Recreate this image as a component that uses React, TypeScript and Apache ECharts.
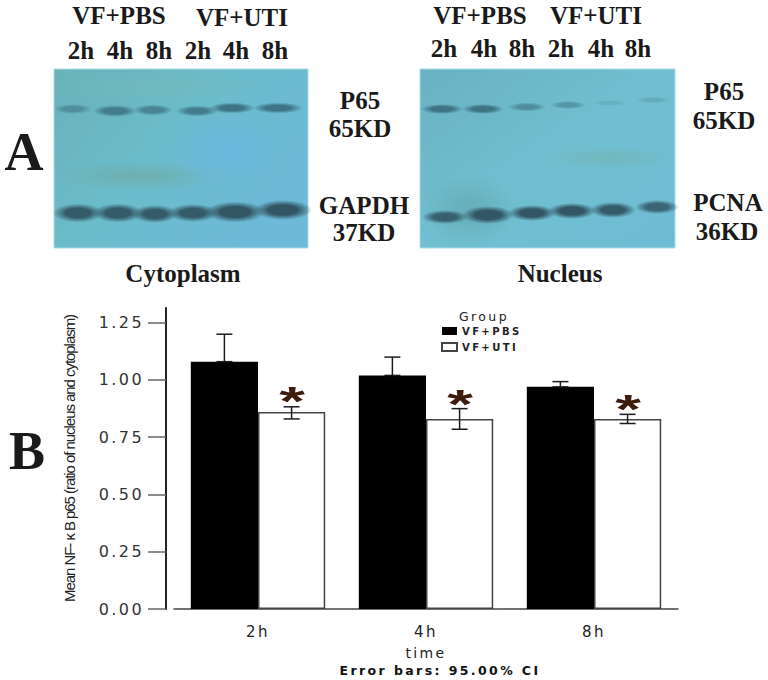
import React, { useEffect, useRef } from "react";
import * as echarts from "echarts";

const categories = ["2h", "4h", "8h"];
const pbsValues = [1.08, 1.02, 0.97];
const utiValues = [0.86, 0.83, 0.83];
const pbsHigh = [1.2, 1.1, 0.993];
const utiHigh = [0.883, 0.875, 0.85];
const utiLow = [0.83, 0.785, 0.81];
const starValues = [0.935, 0.92, 0.9];
const yTicks = [0, 0.25, 0.5, 0.75, 1, 1.25];

const serif = "'Liberation Serif'";
const sans = "'Liberation Sans'";
const wide = "'DejaVu Sans'";

function blob(cx: number, cy: number, rx: number, ry: number, color: string, opacity = 1, hard = 0.5) {
  const colorStops = [
    { offset: 0, color },
    { offset: hard, color },
    { offset: 1, color: color.replace(/[\d.]+\)$/, "0)") },
  ];
  return {
    type: "circle",
    silent: true,
    shape: { cx: 0, cy: 0, r: 10 },
    x: cx,
    y: cy,
    scaleX: rx / 10,
    scaleY: ry / 10,
    style: { opacity, fill: { type: "radial", x: 0.5, y: 0.5, r: 0.5, colorStops } },
  };
}

function serifText(text: string, x: number, y: number, size = 25) {
  return {
    type: "text",
    silent: true,
    x,
    y,
    style: { text, fill: "#1a1a1a", font: `bold ${size}px ${serif}`, align: "center", verticalAlign: "middle" },
  };
}

const dark = "rgba(50,86,100,1)";
const mid = "rgba(54,104,120,1)";

function bands(list: number[][], color: string) {
  return list.map(([x, y, rx, ry, o]) => blob(x, y, rx, ry, color, o));
}

const blotGraphics = [
  {
    type: "rect", silent: true, shape: { x: 54, y: 69, width: 254, height: 179 },
    style: {
      stroke: "#a8dde6", lineWidth: 1,
      fill: { type: "linear", x: 0, y: 0, x2: 1, y2: 0.6, colorStops: [
        { offset: 0, color: "#69b2b8" }, { offset: 0.5, color: "#6bbccb" }, { offset: 1, color: "#6cb9d8" } ] },
    },
  },
  blob(140, 176, 85, 15, "rgba(112,168,160,0.55)", 1, 0.2),
  blob(225, 150, 60, 38, "rgba(108,184,226,0.7)", 1, 0.2),
  blob(160, 86, 100, 15, "rgba(114,186,186,0.6)", 1, 0.2),
  ...bands([[73,109,19,5,0.5],[115,111,22,6,0.75],[153,110,20,5.5,0.65],[197,111,21,5.5,0.75],[232,108,23,5.5,0.85],[278,108,25,5.5,0.85]], mid),
  ...bands([[78,213,25,9.5,0.95],[118,213,25,9.5,0.95],[155,214,23,9,0.95],[193,213,25,9,0.95],[235,212,30,10.5,1],[283,210,29,10,1]], dark),
  {
    type: "rect", silent: true, shape: { x: 420, y: 69, width: 255, height: 179 },
    style: {
      stroke: "#a8dde6", lineWidth: 1,
      fill: { type: "linear", x: 0, y: 0, x2: 1, y2: 1, colorStops: [
        { offset: 0, color: "#68b2c2" }, { offset: 0.5, color: "#70bfd0" }, { offset: 1, color: "#6ebcd4" } ] },
    },
  },
  blob(470, 210, 48, 36, "rgba(96,166,174,0.6)", 1, 0.2),
  blob(608, 158, 64, 11, "rgba(116,180,178,0.6)", 1, 0.2),
  ...bands([[442,109,21,5,0.85],[483,109,21,5,0.85],[527,107,19,4.5,0.55],[568,105,18,4,0.45],[610,103,17,3,0.16],[653,100,17,3.5,0.22]], mid),
  ...bands([[445,217,23,7,0.9],[488,215,26,9,1],[532,213,24,8,1],[572,211,24,8,1],[613,210,23,8,0.95],[657,207,22,7,0.85]], dark),
];

const paperLabels = [
  serifText("VF+PBS", 119, 15), serifText("VF+UTI", 242, 17),
  ...["2h", "4h", "8h", "2h", "4h", "8h"].map((t, i) => serifText(t, [81, 120, 159, 198, 236, 275][i], 50)),
  serifText("P65", 360, 100), serifText("65KD", 360, 128),
  serifText("GAPDH", 364, 205), serifText("37KD", 364, 232),
  serifText("Cytoplasm", 183, 273),
  serifText("VF+PBS", 480, 15), serifText("VF+UTI", 596, 15),
  ...["2h", "4h", "8h", "2h", "4h", "8h"].map((t, i) => serifText(t, [444, 484, 522, 561, 601, 638][i], 48)),
  serifText("P65", 724, 91), serifText("65KD", 724, 120),
  serifText("PCNA", 728, 202), serifText("36KD", 727, 231),
  serifText("Nucleus", 560, 273),
  serifText("A", 24, 152, 54),
  serifText("B", 27, 451, 54),
];

const chartTexts = [
  { type: "text", silent: true, x: 484, y: 316, style: { text: "Group", fill: "#222", font: `12.5px ${wide}`, align: "center", verticalAlign: "middle" } },
  { type: "text", silent: true, x: 440, y: 670, style: { text: "Error bars: 95.00% CI", fill: "#111", font: `bold 12.5px ${wide}`, align: "center", verticalAlign: "middle" } },
];

function errorBar(api: any, x: number, high: number, low: number) {
  const top = api.coord([0, high])[1];
  const bottom = api.coord([0, low])[1];
  const cap = 8;
  const style = { stroke: "#1c1c1c", lineWidth: 1.5 };
  return [
    { type: "line", shape: { x1: x, y1: top, x2: x, y2: bottom }, style },
    { type: "line", shape: { x1: x - cap, y1: top, x2: x + cap, y2: top }, style },
    { type: "line", shape: { x1: x - cap, y1: bottom, x2: x + cap, y2: bottom }, style },
  ];
}

export default function App() {
  const ref = useRef<HTMLDivElement>(null);
  useEffect(() => {
    const chart = echarts.init(ref.current!, undefined, { renderer: "svg" });
    chart.setOption({
      animation: false,
      backgroundColor: "#ffffff",
      textStyle: { fontFamily: wide },
      grid: { left: 174, right: 90, top: 308, bottom: 71, containLabel: false },
      legend: {
        left: 436, top: 321, orient: "vertical", itemWidth: 15, itemHeight: 8, itemGap: 6,
        icon: "rect",
        data: ["VF+PBS", "VF+UTI"],
        textStyle: { fontFamily: wide, fontSize: 10, fontWeight: "bold", color: "#222" },
      },
      xAxis: {
        type: "category",
        data: categories,
        name: "time",
        nameLocation: "middle",
        nameGap: 37,
        nameTextStyle: { fontFamily: wide, fontSize: 14, color: "#222" },
        axisLine: { lineStyle: { color: "#444", width: 1.5 } },
        axisTick: { alignWithLabel: true, length: 10, lineStyle: { color: "#444", width: 1.5 } },
        axisLabel: { fontFamily: wide, fontSize: 15, color: "#222", margin: 15 },
      },
      yAxis: {
        type: "value",
        min: 0,
        max: 1.3144,
        offset: 8,
        name: "Mean NF- κ B p65 (ratio of nucleus and cytoplasm)",
        nameLocation: "middle",
        nameRotate: 90,
        nameGap: 89,
        nameTextStyle: { fontFamily: sans, fontSize: 15, color: "#222" },
        splitLine: { show: false },
        axisLine: { show: true, onZero: false, lineStyle: { color: "#222", width: 2 } },
        axisTick: { show: true, length: 18, customValues: yTicks, lineStyle: { color: "#666", width: 1.5 } },
        axisLabel: {
          fontFamily: wide, fontSize: 16, color: "#333", margin: 22,
          customValues: yTicks,
          formatter: (v: number) => v.toFixed(2),
        },
      },
      series: [
        { name: "VF+PBS", type: "bar", data: pbsValues, barWidth: "40%", barGap: "0%", itemStyle: { color: "#000" } },
        { name: "VF+UTI", type: "bar", data: utiValues, barWidth: "40%", itemStyle: { color: "#fff", borderColor: "#444", borderWidth: 1.5 } },
        {
          type: "custom",
          name: "errors",
          silent: true,
          data: categories.map((_, i) => [i]),
          encode: { x: 0 },
          z: 5,
          renderItem: (params: any, api: any) => {
            const i = params.dataIndex;
            const cx = api.coord([i, 0])[0];
            const half = api.size([1, 0])[0] * 0.2;
            return {
              type: "group",
              children: [
                ...errorBar(api, cx - half, pbsHigh[i], pbsValues[i]),
                ...errorBar(api, cx + half, utiHigh[i], utiLow[i]),
                {
                  type: "text",
                  x: cx + half,
                  y: api.coord([0, starValues[i]])[1] + 6,
                  scaleY: 0.62,
                  style: { text: "*", fill: "#3d1c0e", font: `bold 66px ${sans}`, align: "center", verticalAlign: "middle" },
                },
              ],
            };
          },
        },
      ],
      graphic: [...blotGraphics, ...paperLabels, ...chartTexts],
    });
    return () => chart.dispose();
  }, []);
  return (
    <div style={{ position: "fixed", left: 0, top: 0, width: 768, height: 680, background: "#fff" }}>
      <style>{`text[style*="DejaVu"]{letter-spacing:2.4px} text[style*="Liberation Sans"]{letter-spacing:-1.05px}`}</style>
      <div ref={ref} style={{ width: 768, height: 680 }} />
    </div>
  );
}
